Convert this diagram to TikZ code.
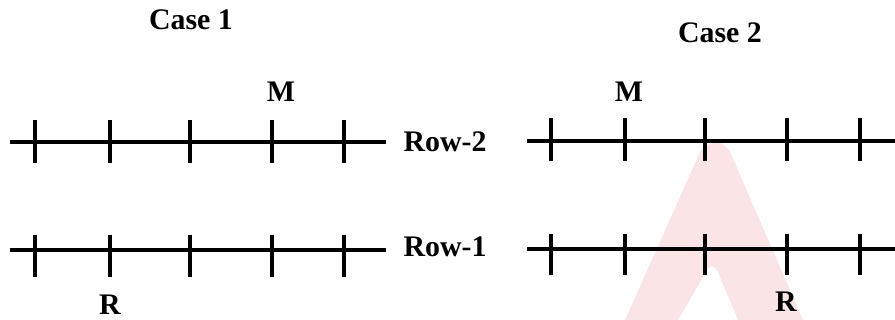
\documentclass[tikz,border=0pt]{standalone}
\usepackage{fontspec}
\setmainfont{Liberation Serif}
\usetikzlibrary{positioning,calc}
\definecolor{wmpink}{RGB}{251,228,230}

\begin{document}
\begin{tikzpicture}[x=0.02cm,y=-0.02cm,
    axis/.style={line width=2.2pt},
    tickmark/.style={line width=1.8pt},
    lbl/.style={font=\bfseries\fontsize{17}{19}\selectfont,inner sep=0pt}]
    \useasboundingbox (0,0) rectangle (895,320);

    % Watermark in the background
    \fill[wmpink] (625,320) -- (700,152) .. controls (712,138) and (722,140) .. (730,152)
        -- (803,320) -- (738,320) -- (718,272) .. controls (714,264) and (710,264) .. (706,272)
        -- (678,320) -- cycle;

    % Titles
    \node[lbl] (case1) at (191,20) {Case 1};
    \node[lbl] (case2) at (720,33) {Case 2};

    % Row ends
    \coordinate (l2a) at (10,142);  \coordinate (l2b) at (386,142);
    \coordinate (l1a) at (10,250);  \coordinate (l1b) at (386,250);
    \coordinate (r2a) at (527,141); \coordinate (r2b) at (895,141);
    \coordinate (r1a) at (527,249); \coordinate (r1b) at (895,249);

    % Rows
    \draw[axis] (l2a) -- (l2b);
    \draw[axis] (l1a) -- (l1b);
    \draw[axis] (r2a) -- (r2b);
    \draw[axis] (r1a) -- (r1b);

    % Ticks
    \foreach \x in {35,110,190,272,344} {
        \draw[tickmark] (\x,120) -- (\x,163);
        \draw[tickmark] (\x,235) -- (\x,277);
    }
    \foreach \x in {551,625,705,787,860} {
        \draw[tickmark] (\x,118) -- (\x,161);
        \draw[tickmark] (\x,234) -- (\x,275);
    }

    % Row labels
    \node[lbl] (row2) at (445,142) {Row-2};
    \node[lbl] (row1) at (445,247) {Row-1};

    % Seats
    \node[lbl] (m1) at (281,92) {M};
    \node[lbl] (r1) at (110,305) {R};
    \node[lbl] (m2) at (629,92) {M};
    \node[lbl] (r2) at (786,302) {R};
\end{tikzpicture}
\end{document}
